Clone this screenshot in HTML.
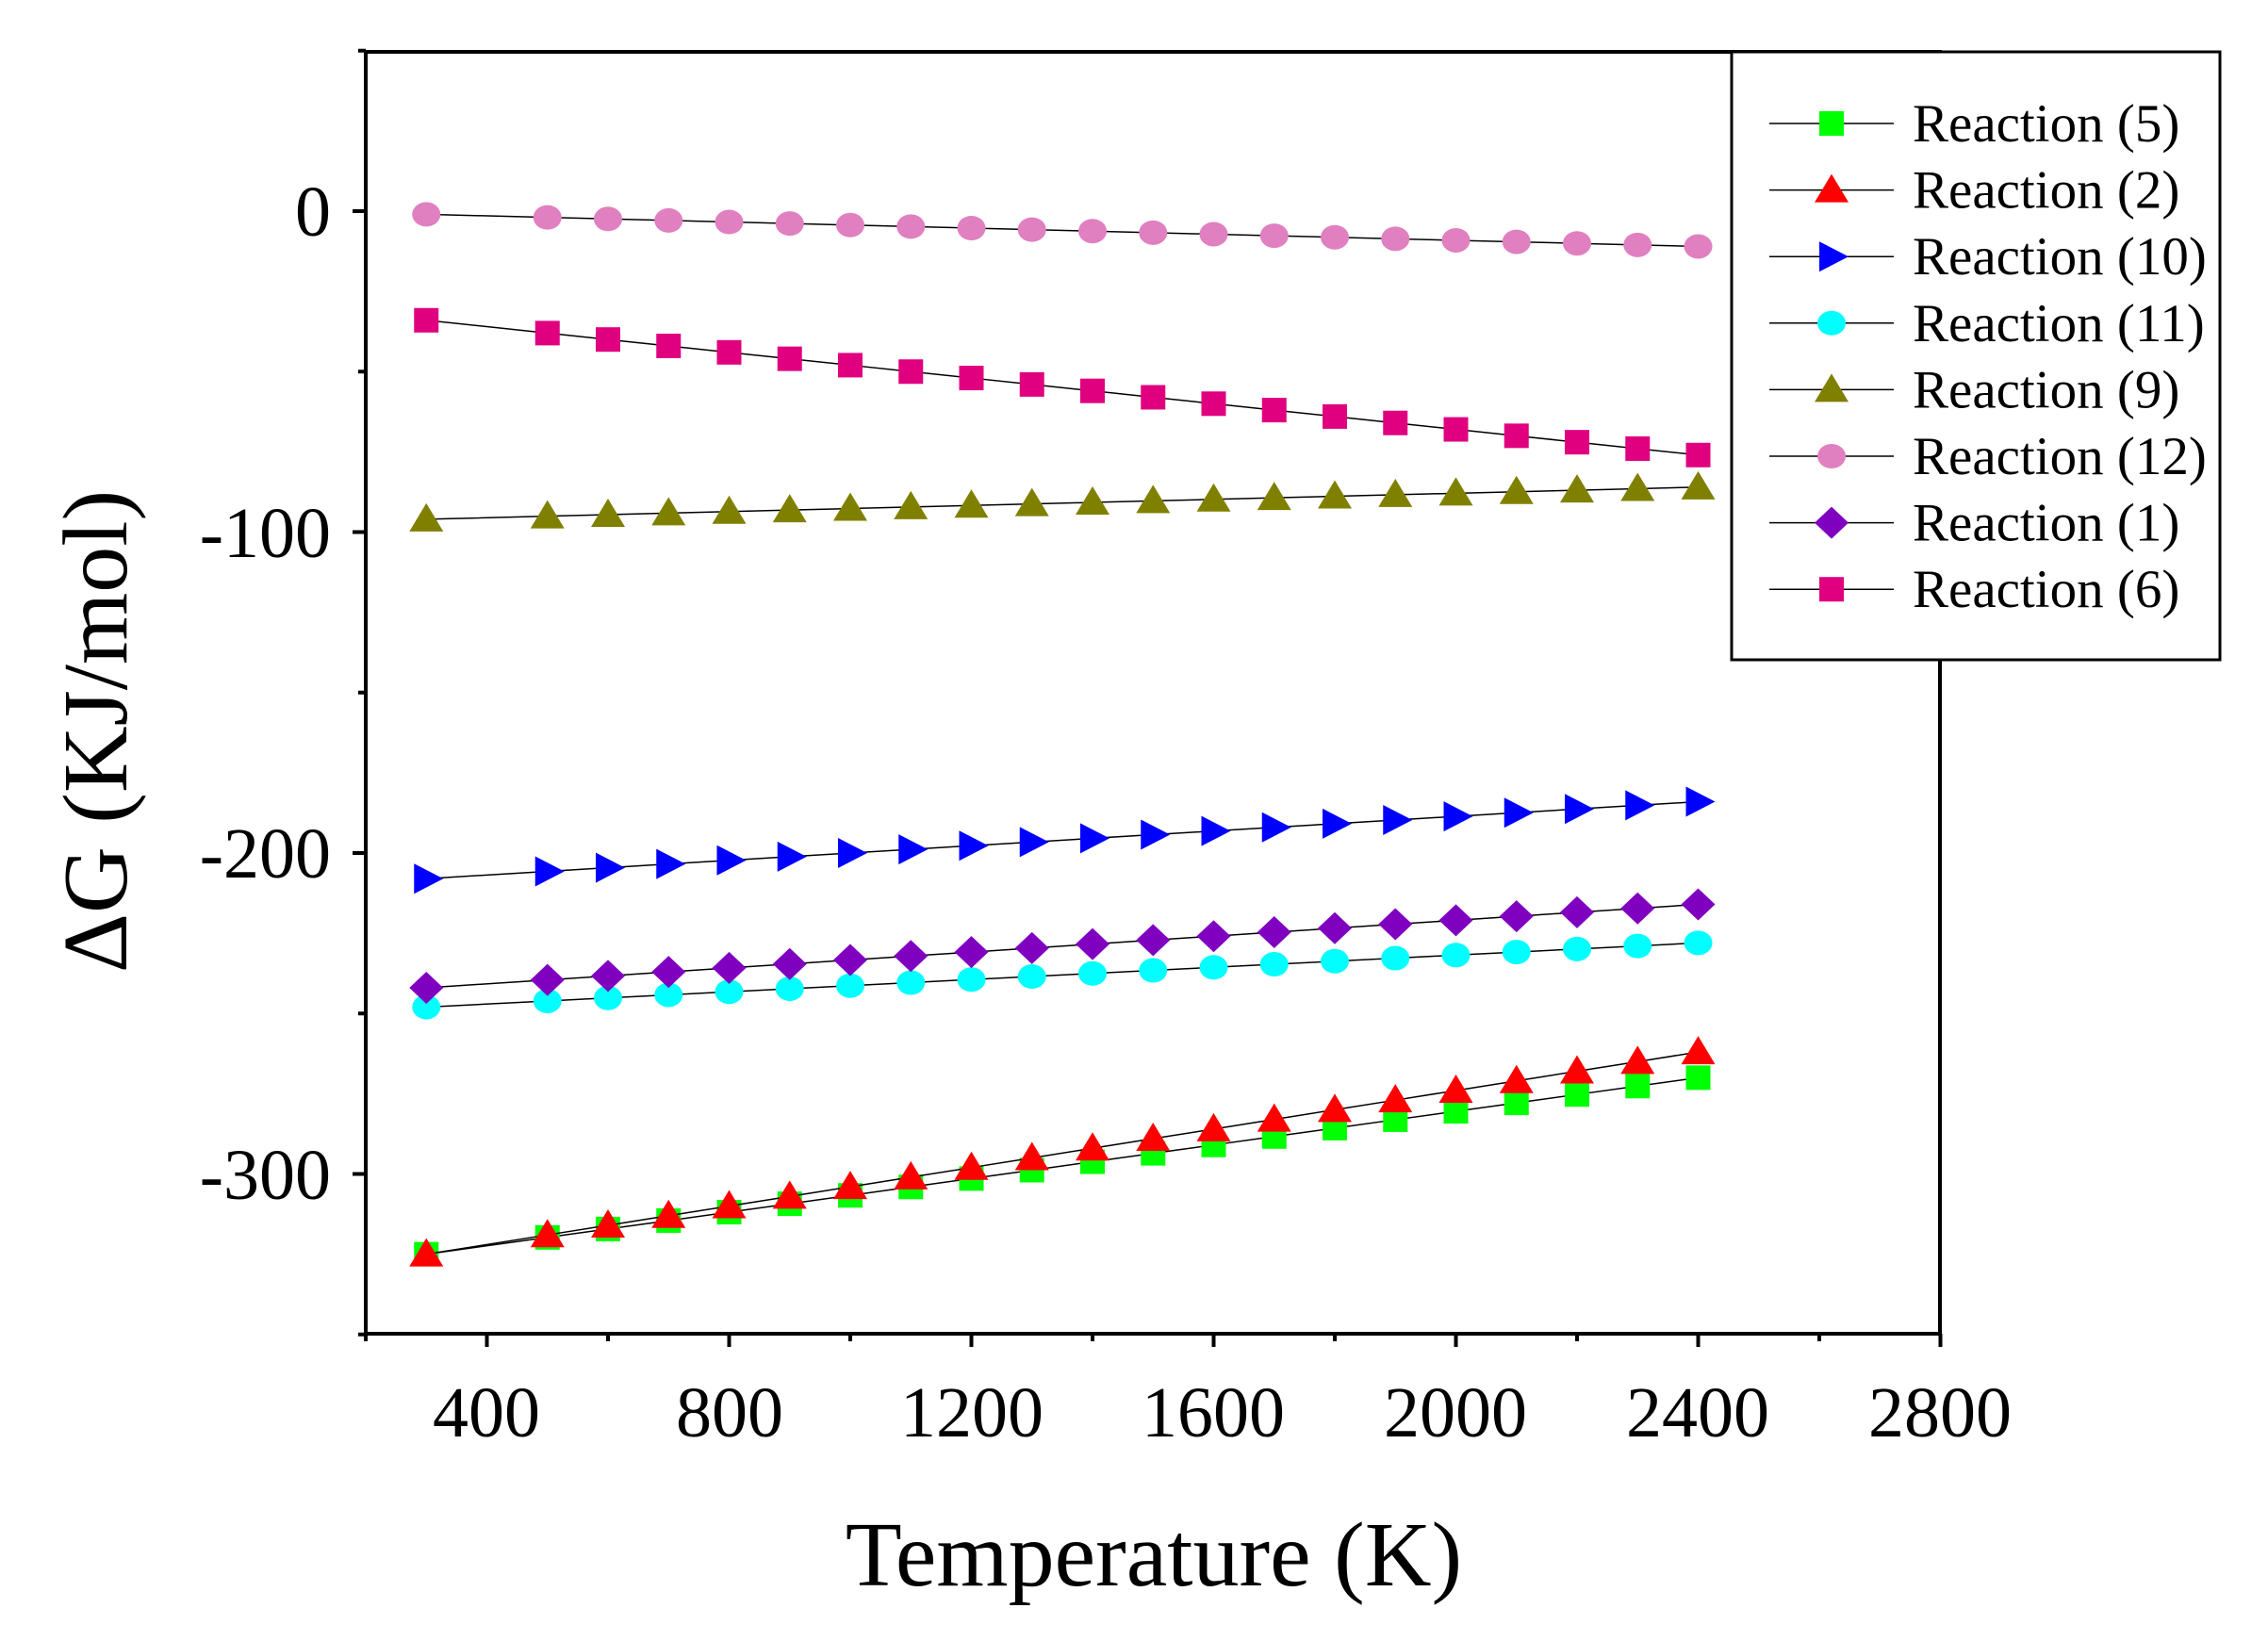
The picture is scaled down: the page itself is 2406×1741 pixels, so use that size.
<!DOCTYPE html>
<html><head><meta charset="utf-8"><style>
html,body{margin:0;padding:0;background:#fff;}
svg{display:block;}
text{font-family:"Liberation Serif",serif;fill:#000;}
</style></head><body>
<svg id="s" width="2406" height="1741" viewBox="0 0 2406 1741" xmlns="http://www.w3.org/2000/svg">
<rect width="2406" height="1741" fill="#fff"/>
<g id="data"></g>
<g id="axes" stroke="#000" stroke-width="4" fill="none">
<line x1="388" y1="55" x2="2058" y2="55"/>
<line x1="388" y1="53" x2="388" y2="1417"/>
<line x1="386" y1="1415" x2="2060" y2="1415"/>
<line x1="2058" y1="53" x2="2058" y2="1417"/>
</g>
<g id="ticks" stroke="#000" stroke-width="4"></g>
<g font-size="76" text-anchor="end">
<text x="351" y="250">0</text>
<text x="351" y="591">-100</text>
<text x="351" y="931">-200</text>
<text x="351" y="1272">-300</text>
</g>
<g font-size="76" text-anchor="middle">
<text x="516" y="1524">400</text>
<text x="774" y="1524">800</text>
<text x="1031" y="1524">1200</text>
<text x="1287" y="1524">1600</text>
<text x="1544" y="1524">2000</text>
<text x="1801" y="1524">2400</text>
<text x="2058" y="1524">2800</text>
</g>
<text x="1224" y="1682" font-size="98" text-anchor="middle">Temperature (K)</text>
<text transform="translate(134,776) rotate(-90)" font-size="98" text-anchor="middle">ΔG (KJ/mol)</text>
<rect x="1837" y="55" width="518" height="645" fill="#fff" stroke="#000" stroke-width="3"/>
<g id="leg"></g>
</svg>
<script>
const NS="http://www.w3.org/2000/svg";
const X=t=>388+(t-200)*257/400, Y=v=>224-v*3.405;
const T=[300];for(let t=500;t<=2400;t+=100)T.push(t);
const series=[
 ["Reaction (5)","#00ff00","sq",-325,-270],
 ["Reaction (2)","#ff0000","up",-325,-262],
 ["Reaction (10)","#0000ff","rt",-208,-184],
 ["Reaction (11)","#00ffff","ci",-248,-228],
 ["Reaction (9)","#808000","up",-96,-86],
 ["Reaction (12)","#e080c0","ci",-1,-11],
 ["Reaction (1)","#8000c0","di",-242,-216],
 ["Reaction (6)","#e0007f","sq",-34,-76]];
function el(n,a,p){const e=document.createElementNS(NS,n);for(const k in a)e.setAttribute(k,a[k]);p.appendChild(e);return e;}
function mark(type,x,y,c,p){
 if(type=="sq")el("rect",{x:x-13,y:y-13,width:26,height:26,fill:c},p);
 else if(type=="ci")el("ellipse",{cx:x,cy:y,rx:15,ry:13,fill:c},p);
 else if(type=="up")el("polygon",{points:`${x},${y-17} ${x+18},${y+13} ${x-18},${y+13}`,fill:c},p);
 else if(type=="rt")el("polygon",{points:`${x+18},${y} ${x-13},${y-16} ${x-13},${y+16}`,fill:c},p);
 else if(type=="di")el("polygon",{points:`${x},${y-17} ${x+18},${y} ${x},${y+17} ${x-18},${y}`,fill:c},p);
}
const d=document.getElementById("data"),lg=document.getElementById("leg");
series.forEach((s,i)=>{
 const pts=T.map(t=>[X(t),Y(s[3]+(s[4]-s[3])*(t-300)/2100)]);
 el("polyline",{points:pts.map(p=>p.join(",")).join(" "),fill:"none",stroke:"#000","stroke-width":1.5},d);
 pts.forEach(p=>mark(s[2],p[0],p[1],s[1],d));
 const ly=131+i*70.6;
 el("line",{x1:1877,y1:ly,x2:2009,y2:ly,stroke:"#000","stroke-width":1.5},lg);
 mark(s[2],1943,ly,s[1],lg);
 const tx=el("text",{x:2029,y:ly+19,"font-size":57},lg);tx.textContent=s[0];
});
const tk=document.getElementById("ticks");
for(let t=200;t<=2800;t+=200){const x=X(t);el("line",{x1:x,y1:1415,x2:x,y2:t%400==0?1429:1423},tk);}
for(let v=50;v>=-350;v-=50){const y=Y(v);el("line",{x1:388,y1:y,x2:v%100==0?374:380,y2:y},tk);}
</script>
</body></html>
